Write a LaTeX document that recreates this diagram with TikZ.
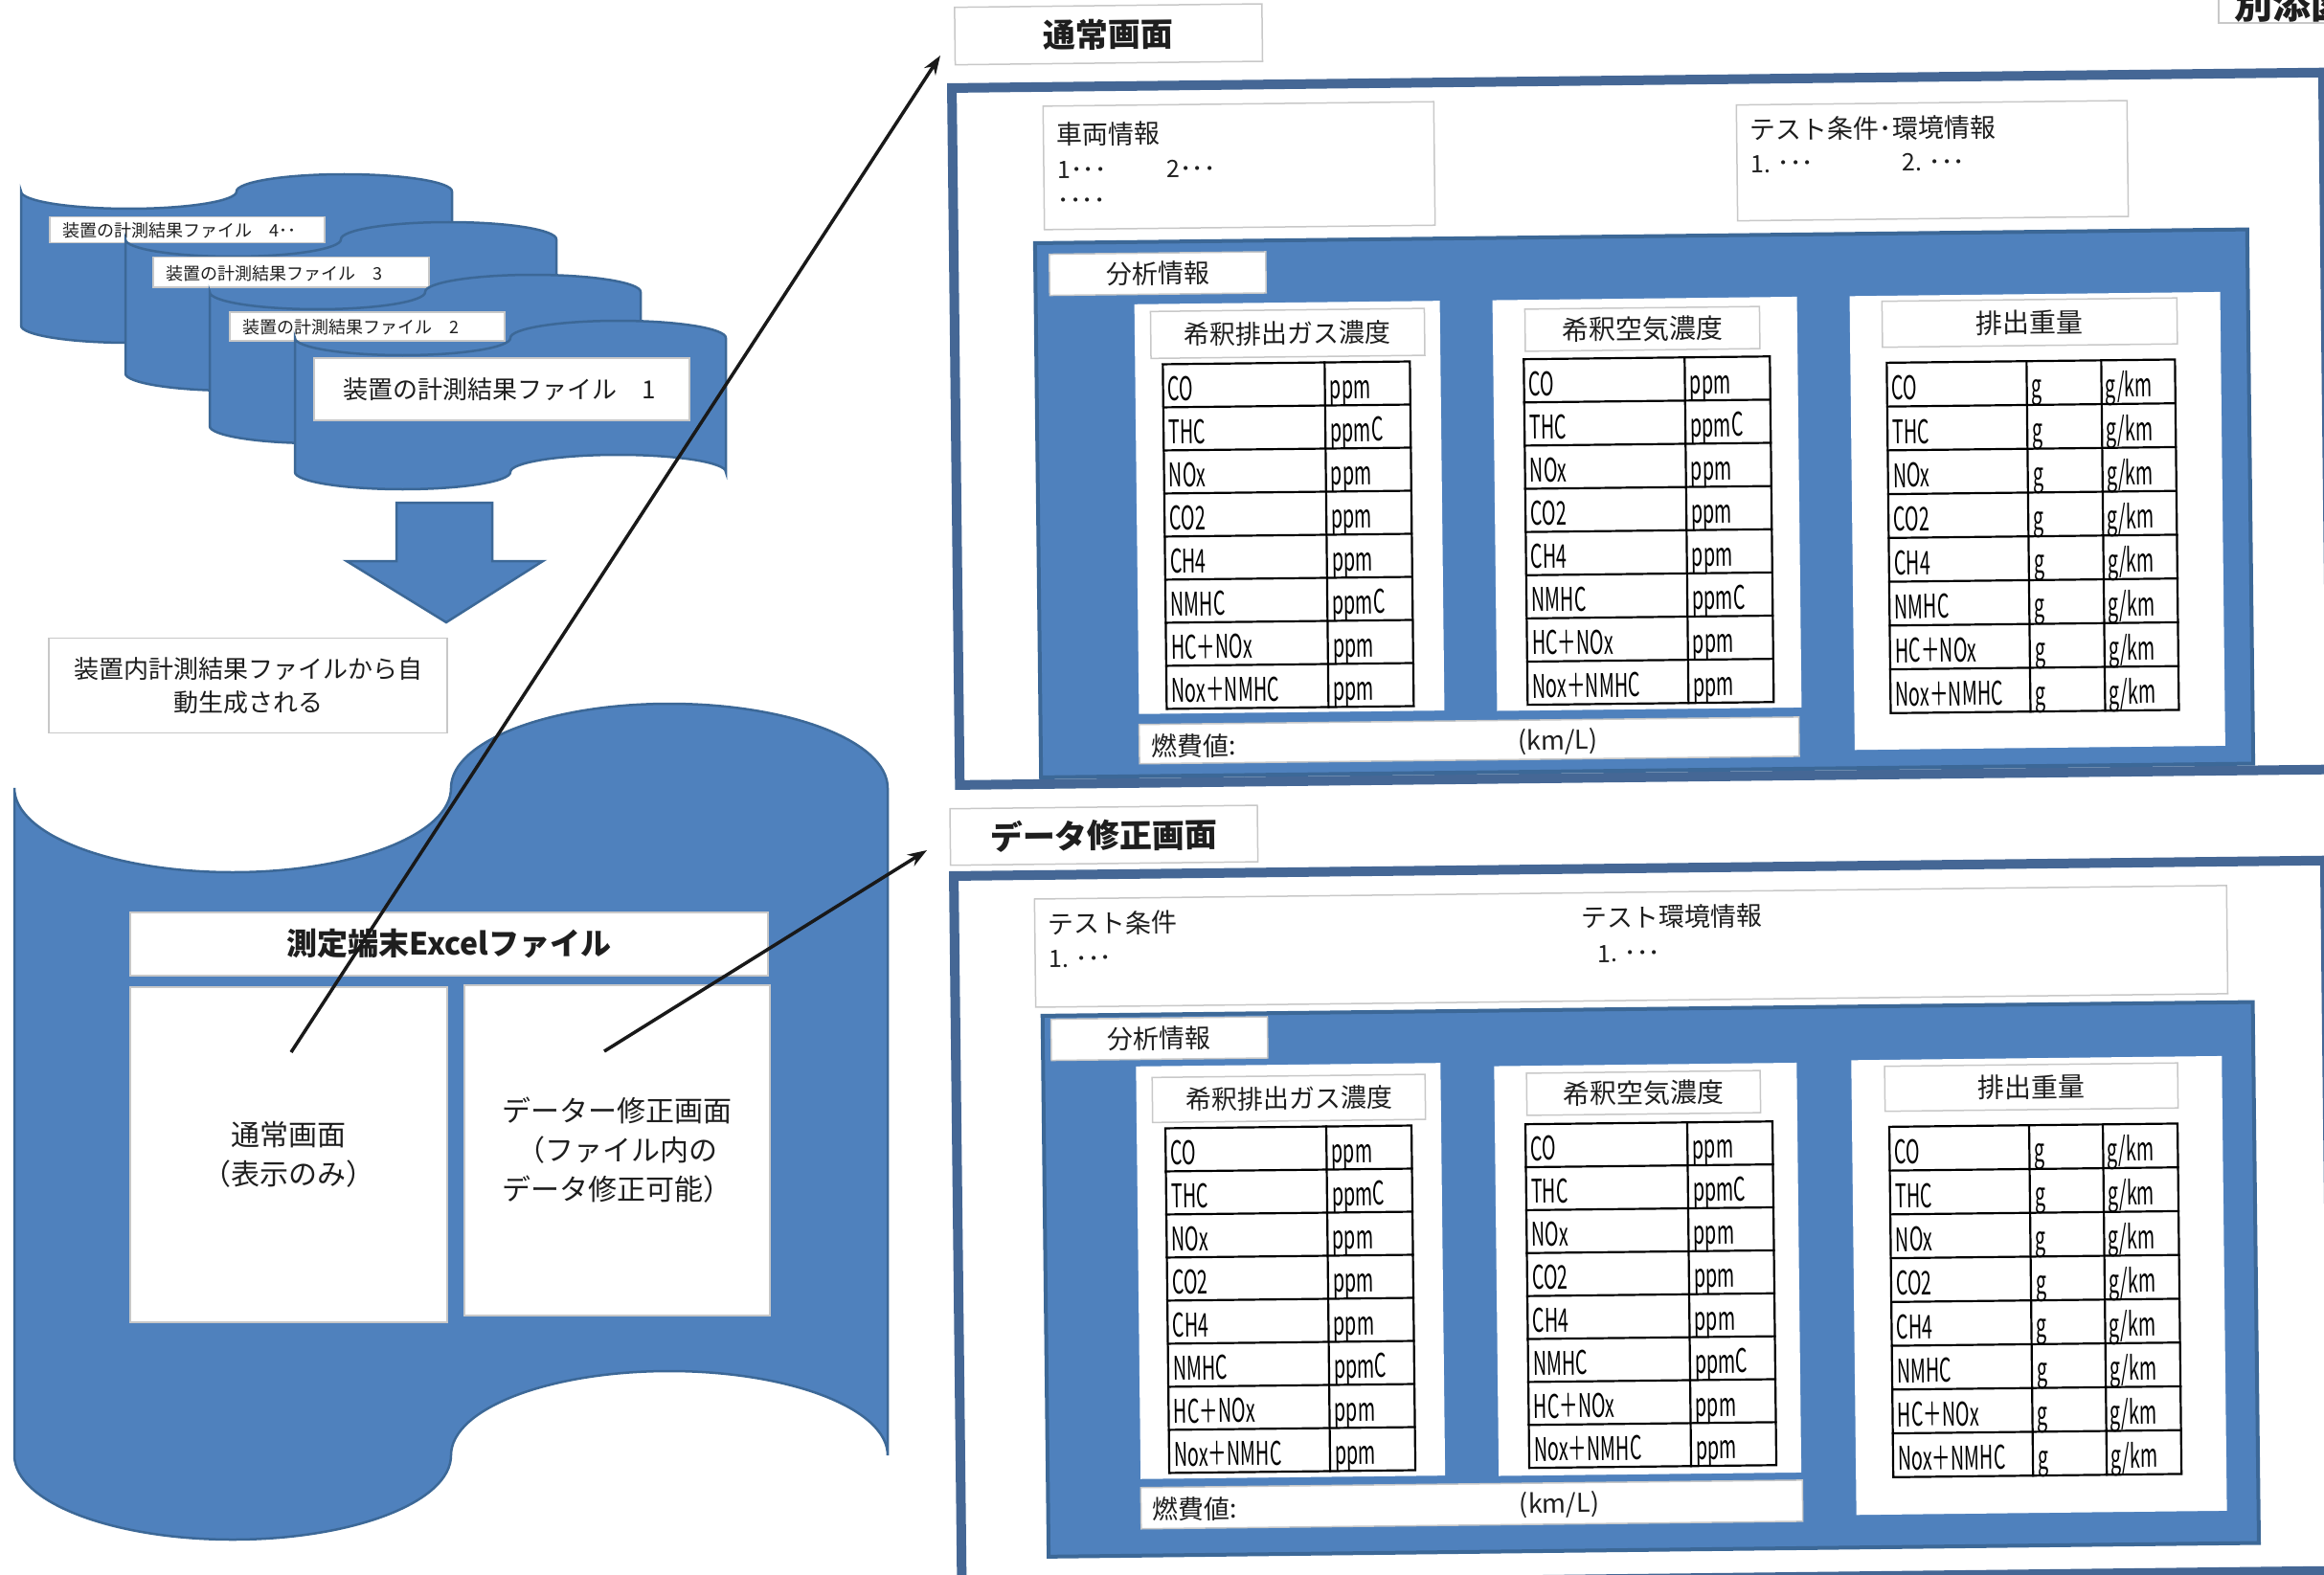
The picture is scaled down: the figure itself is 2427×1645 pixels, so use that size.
\documentclass[tikz,border=0pt]{standalone}
\usepackage{fontspec}
\setmainfont{Noto Sans CJK JP}
\newfontfamily\condfont[FakeStretch=0.58]{Noto Sans CJK JP}
\usetikzlibrary{arrows.meta}
\definecolor{cblue}{HTML}{4F81BD}
\definecolor{cedge}{HTML}{3C6897}
\definecolor{cframe}{HTML}{456795}
\definecolor{cgray}{HTML}{C8C8C8}
\definecolor{ctext}{HTML}{1E1E1E}

\newcommand{\cyl}[5]{%
  \draw[cylsty] (#1,#2)
    arc[start angle=180,end angle=360,x radius={0.25*#3*1pt},y radius={#5*1pt}]
    arc[start angle=180,end angle=0,x radius={0.25*#3*1pt},y radius={#5*1pt}]
    -- ++(0,#4)
    arc[start angle=0,end angle=180,x radius={0.25*#3*1pt},y radius={#5*1pt}]
    arc[start angle=0,end angle=-180,x radius={0.25*#3*1pt},y radius={#5*1pt}]
    -- cycle;}

\newcommand{\ptable}[6]{% prefix x1 y1 x2 y2 div
  \pgfmathsetmacro{\trh}{(#5-#3)/8}
  \foreach \nm/\uu [count=\ri from 0] in {CO/ppm,THC/ppmC,NOx/ppm,CO2/ppm,CH4/ppm,NMHC/ppmC,HC＋NOx/ppm,Nox＋NMHC/ppm}{
    \node[ttext] (#1n\ri) at (#2+5,{#3+(\ri+1)*\trh-7}) {\nm};
    \node[ttext] (#1u\ri) at (#6+5,{#3+(\ri+1)*\trh-7}) {\uu};
  }
  \draw[tline] (#2,#3) rectangle (#4,#5);
  \foreach \ri in {1,...,7} \draw[tline] (#2,{#3+\ri*\trh}) -- (#4,{#3+\ri*\trh});
  \draw[tline] (#6,#3) -- (#6,#5);
}

\newcommand{\wtable}[7]{% prefix x1 y1 x2 y2 d1 d2
  \pgfmathsetmacro{\trh}{(#5-#3)/8}
  \foreach \nm [count=\ri from 0] in {CO,THC,NOx,CO2,CH4,NMHC,HC＋NOx,Nox＋NMHC}{
    \node[ttext] (#1n\ri) at (#2+5,{#3+(\ri+1)*\trh-7}) {\nm};
    \node[ttext] (#1g\ri) at (#6+5,{#3+(\ri+1)*\trh-7}) {g};
    \node[ttext] (#1k\ri) at (#7+4,{#3+(\ri+1)*\trh-7}) {g/km};
  }
  \draw[tline] (#2,#3) rectangle (#4,#5);
  \foreach \ri in {1,...,7} \draw[tline] (#2,{#3+\ri*\trh}) -- (#4,{#3+\ri*\trh});
  \draw[tline] (#6,#3) -- (#6,#5);
  \draw[tline] (#7,#3) -- (#7,#5);
}

\begin{document}
\begin{tikzpicture}[x=1pt,y=-1pt,
  lbox/.style={draw=cgray,line width=1.5pt,fill=white,text=ctext},
  cylsty/.style={fill=cblue,draw=cedge,line width=2.5pt},
  frame/.style={draw=cframe,line width=10pt,fill=white},
  bluepanel/.style={fill=cblue,draw=cedge,line width=4pt},
  wpanel/.style={fill=white,draw=none},
  tline/.style={line width=2.2pt,draw=black,line cap=rect},
  ttext/.style={anchor=base west,inner sep=0pt,text=black,font=\condfont\fontsize{34}{34}\selectfont},
  jtext/.style={anchor=west,inner sep=0pt,text=ctext,font=\fontsize{27}{27}\selectfont},
  stext/.style={anchor=west,inner sep=0pt,text=ctext,font=\fontsize{25}{25}\selectfont},
  conn/.style={line width=3.5pt,draw=black!90,-{Stealth[length=20pt,width=14pt]}}
]
\fill[white] (0,0) rectangle (2427,1645);
\useasboundingbox (0,0) rectangle (2427,1645);

% ---------- stacked file cylinders ----------
\cyl{22}{200}{450}{140}{18}
\node[lbox,anchor=north west,minimum width=287pt,minimum height=27pt] (lab4) at (51,226) {};
\node[jtext,font=\fontsize{18}{18}\selectfont] (lab4t) at (65,241) {装置の計測結果ファイル　4･･};
\cyl{131}{250}{450}{140}{18}
\node[lbox,anchor=north west,minimum width=288pt,minimum height=31pt] (lab3) at (159,268) {};
\node[jtext,font=\fontsize{18}{18}\selectfont] (lab3t) at (173,286) {装置の計測結果ファイル　3};
\cyl{219}{305}{450}{140}{18}
\node[lbox,anchor=north west,minimum width=287pt,minimum height=30pt] (lab2) at (239,325) {};
\node[jtext,font=\fontsize{18}{18}\selectfont] (lab2t) at (253,342) {装置の計測結果ファイル　2};
\cyl{308}{353}{450}{140}{18}
\node[lbox,anchor=north west,minimum width=392pt,minimum height=65pt] (lab1) at (327,373) {};
\node[jtext,font=\fontsize{26}{26}\selectfont] (lab1t) at (358,407) {装置の計測結果ファイル　1};

% ---------- down arrow ----------
\draw[cylsty] (414,525) -- (514,525) -- (514,586) -- (567,586) -- (466,650) -- (362,586) -- (414,586) -- cycle;

\node[lbox,minimum width=416pt,minimum height=99pt,align=center,font=\fontsize{26}{35}\selectfont] (auto) at (259,716) {装置内計測結果ファイルから自\\動生成される};

% ---------- big cylinder ----------
\cyl{15}{823}{912}{697}{88}
\node[lbox,minimum width=666pt,minimum height=66pt,font=\bfseries\fontsize{32}{32}\selectfont] (excel) at (469,986) {測定端末Excelファイル};
\node[lbox,minimum width=331pt,minimum height=350pt,align=center,font=\fontsize{30}{41}\selectfont] (normal) at (301.5,1206) {通常画面\\（表示のみ）};
\node[lbox,minimum width=319pt,minimum height=345pt,align=center,font=\fontsize{30}{41}\selectfont] (edit) at (644.5,1201.5) {データー修正画面\\（ファイル内の\\データ修正可能）};

% ---------- top right tag ----------
\draw[lbox] (2317,-10) rectangle (2440,24);
\node[anchor=base west,inner sep=0pt,font=\bfseries\fontsize{40}{40}\selectfont,text=ctext] (tag) at (2333,20) {別添図};

% ---------- upper panel ----------
\begin{scope}[shift={(989,87)},rotate=0.65,transform shape]
  \node[lbox,anchor=north west,minimum width=321pt,minimum height=60pt,font=\bfseries\fontsize{34}{34}\selectfont] (ttl1) at (8,-80) {通常画面};
  \draw[frame] (5,5) rectangle (1437,733);
  \draw[lbox] (100,25) rectangle (508,154);
  \node[jtext] (veh) at (114,55) {車両情報};
  \node[stext] (veh1) at (114,92) {1･･･};
  \node[stext] (veh2) at (228,92) {2･･･};
  \node[stext] (veh3) at (114,127) {････};
  \draw[lbox] (824,32) rectangle (1232,153);
  \node[jtext] (cond) at (838,58) {テスト条件･環境情報};
  \node[stext] (cond1) at (838,94) {1. ･･･};
  \node[stext] (cond2) at (996,94) {2. ･･･};
  \draw[bluepanel] (90,168) rectangle (1356,726);
  \node[lbox,anchor=north west,minimum width=226pt,minimum height=43pt,font=\fontsize{27}{27}\selectfont] (ana1) at (104,179) {分析情報};
  \fill[wpanel] (193,233) rectangle (512,661);
  \node[lbox,anchor=north west,minimum width=286pt,minimum height=49pt,font=\fontsize{27}{27}\selectfont] (h11) at (209,240) {希釈排出ガス濃度};
  \ptable{A}{222}{296}{480}{656}{391}
  \fill[wpanel] (567,233) rectangle (885,662);
  \node[lbox,anchor=north west,minimum width=245pt,minimum height=44pt,font=\fontsize{28}{28}\selectfont] (h12) at (600,242) {希釈空気濃度};
  \ptable{B}{599}{295}{856}{656}{767}
  \fill[wpanel] (940,233) rectangle (1327,707);
  \node[lbox,anchor=north west,minimum width=308pt,minimum height=48pt,font=\fontsize{28}{28}\selectfont] (h13) at (973,238) {排出重量};
  \wtable{C}{978}{303}{1279}{669}{1124}{1202}
  \draw[lbox] (193,672) rectangle (882,713);
  \node[jtext] (fuel1) at (205,695) {燃費値:};
  \node[inner sep=0pt,text=ctext,font=\fontsize{27}{27}\selectfont] (kml1) at (630,695) {(km/L)};
\end{scope}

% ---------- lower panel ----------
\begin{scope}[shift={(991,910)},rotate=0.65,transform shape]
  \node[lbox,anchor=north west,minimum width=321pt,minimum height=59pt,font=\bfseries\fontsize{34}{34}\selectfont] (ttl2) at (1,-66) {データ修正画面};
  \draw[frame] (5,5) rectangle (1437,747);
  \draw[lbox] (89,30) rectangle (1334,143);
  \node[jtext] (tc) at (103,56) {テスト条件};
  \node[stext] (tc1) at (103,93) {1. ･･･};
  \node[jtext] (te) at (660,56) {テスト環境情報};
  \node[stext] (te1) at (676,94) {1. ･･･};
  \draw[bluepanel] (96,152) rectangle (1360,717);
  \node[lbox,anchor=north west,minimum width=226pt,minimum height=43pt,font=\fontsize{27}{27}\selectfont] (ana2) at (104,155) {分析情報};
  \fill[wpanel] (193,206) rectangle (511,637);
  \node[lbox,anchor=north west,minimum width=285pt,minimum height=47pt,font=\fontsize{27}{27}\selectfont] (h21) at (209,217) {希釈排出ガス濃度};
  \ptable{D}{223}{271}{480}{631}{391}
  \fill[wpanel] (567,210) rectangle (883,638);
  \node[lbox,anchor=north west,minimum width=244pt,minimum height=44pt,font=\fontsize{28}{28}\selectfont] (h22) at (600,217) {希釈空気濃度};
  \ptable{E}{599}{271}{857}{630}{768}
  \fill[wpanel] (940,208) rectangle (1327,683);
  \node[lbox,anchor=north west,minimum width=306pt,minimum height=47pt,font=\fontsize{28}{28}\selectfont] (h23) at (974,214) {排出重量};
  \wtable{F}{979}{278}{1280}{644}{1125}{1202}
  \draw[lbox] (193,646) rectangle (884,689);
  \node[jtext] (fuel2) at (205,669) {燃費値:};
  \node[inner sep=0pt,text=ctext,font=\fontsize{27}{27}\selectfont] (kml2) at (630,669) {(km/L)};
\end{scope}

% ---------- connectors ----------
\coordinate (s1) at (304,1099);
\coordinate (t1) at (982,58);
\coordinate (s2) at (631,1098);
\coordinate (t2) at (968,888);
\draw[conn] (s1) -- (t1);
\draw[conn] (s2) -- (t2);
\end{tikzpicture}
\end{document}
